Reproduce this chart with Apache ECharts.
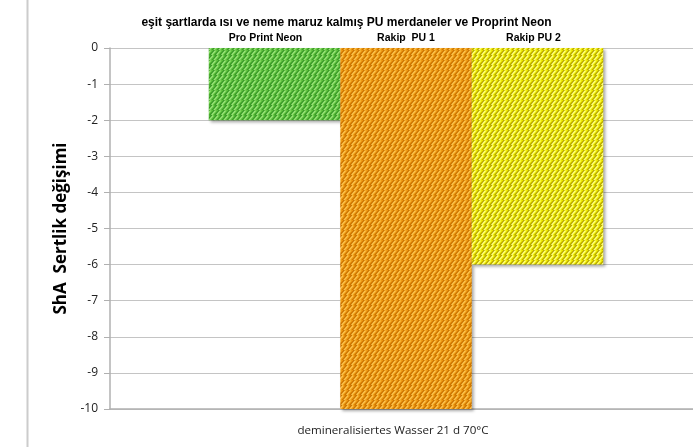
<!DOCTYPE html>
<html><head><meta charset="utf-8">
<script src="https://cdn.jsdelivr.net/npm/echarts@6/dist/echarts.min.js"></script>
<style>html,body{margin:0;padding:0;background:#fff}#c{width:693px;height:447px}</style>
</head><body><div id="c"></div>
<script>
const categories = ['demineralisiertes Wasser 21 d 70°C'];
const seriesNames = ['Pro Print Neon', 'Rakip  PU 1', 'Rakip PU 2'];
const seriesValues = [[-2], [-10], [-6]];
const yTicks = [0, -1, -2, -3, -4, -5, -6, -7, -8, -9, -10];
const titleText = 'eşit şartlarda ısı ve neme maruz kalmış PU merdaneler ve Proprint Neon';
const yAxisName = 'ShA  Sertlik değişimi';
const labelShift = [-9, 0, -4];

function makePattern(base, dark, light) {
  const s = 10;
  const c = document.createElement('canvas');
  c.width = s; c.height = s;
  const g = c.getContext('2d');
  g.fillStyle = base; g.fillRect(0, 0, s, s);
  g.lineCap = 'round';
  for (let row = 0; row < 2; row++) {
    const y0 = row * 5;
    for (let k = -5; k <= s + 5; k += 5) {
      const xs = k + (row ? 2.5 : 0);
      g.strokeStyle = dark; g.lineWidth = 1.6;
      g.beginPath(); g.moveTo(xs, y0 + 5); g.lineTo(xs + 4, y0 + 0.5); g.stroke();
      g.strokeStyle = light; g.lineWidth = 1.2;
      g.beginPath(); g.moveTo(xs + 1.6, y0 + 5); g.lineTo(xs + 5.2, y0 + 1); g.stroke();
    }
  }
  return { image: c, repeat: 'repeat' };
}
const fills = [
  makePattern('#62c440', '#3a9a28', '#9ae47a'),
  makePattern('#f09c14', '#cc7400', '#fcc450'),
  makePattern('#f2ee00', '#b8a800', '#ffff80')
];

const chart = echarts.init(document.getElementById('c'), null, { renderer: 'canvas' });
chart.setOption({
  animation: false,
  backgroundColor: '#fff',
  title: {
    text: titleText, left: 'center', top: 12,
    textStyle: { fontFamily: 'Liberation Sans, Arial', fontSize: 12, fontWeight: 'bold', color: '#000' }
  },
  graphic: [{
    type: 'line', shape: { x1: 27.5, y1: 0, x2: 27.5, y2: 447 },
    style: { stroke: '#cccccc', lineWidth: 2 }
  }],
  grid: { left: 110, width: 592, top: 48, bottom: 38, outerBoundsMode: 'none', containLabel: false },
  xAxis: {
    type: 'category', data: categories, position: 'bottom',
    axisLine: { onZero: false, lineStyle: { color: '#b0b0b0', width: 1.5 } },
    axisTick: { show: false },
    axisLabel: { fontFamily: 'Open Sans, Liberation Sans', fontSize: 11.6, color: '#222', margin: 16, padding: [0, 26, 0, 0] }
  },
  yAxis: {
    type: 'value', min: -10, max: 0, interval: 1,
    name: yAxisName, nameLocation: 'middle', nameGap: 38,
    nameTextStyle: { fontFamily: 'Open Sans, Liberation Sans', fontSize: 17, fontWeight: 'bold', color: '#000' },
    axisLine: { show: true, lineStyle: { color: '#b0b0b0', width: 1.5 } },
    axisTick: { show: true, length: 6, lineStyle: { color: '#b0b0b0' } },
    splitLine: { show: true, lineStyle: { color: '#c4c4c4', width: 1 } },
    axisLabel: {
      fontFamily: 'Open Sans, Liberation Sans', fontSize: 12, color: '#222', margin: 12,
      formatter: v => yTicks.includes(v) ? String(v) : ''
    }
  },
  series: seriesNames.map((n, i) => ({
    name: n, type: 'bar', data: seriesValues[i],
    barWidth: 131.5, barGap: '0%',
    itemStyle: {
      color: fills[i],
      shadowBlur: 3, shadowOffsetX: 2, shadowOffsetY: 2, shadowColor: 'rgba(0,0,0,0.35)'
    },
    label: {
      show: true, position: 'top', formatter: () => n, distance: 4, offset: [labelShift[i], 0],
      fontFamily: 'Liberation Sans Narrow, Liberation Sans, Arial', fontSize: 10.5, fontWeight: 'bold', color: '#000'
    }
  }))
});
</script></body></html>
